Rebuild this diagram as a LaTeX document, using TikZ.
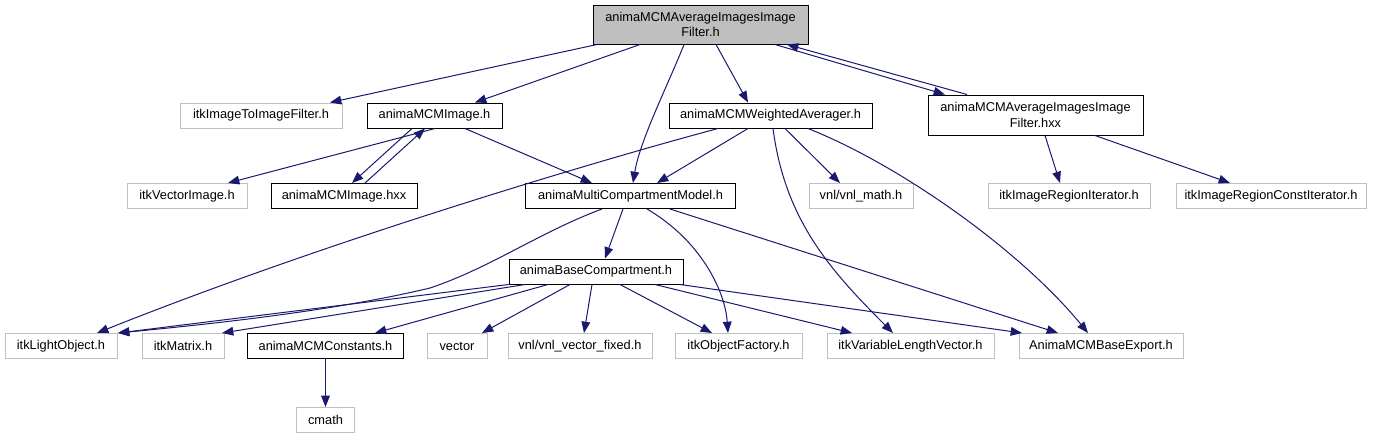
\documentclass[tikz,border=0pt]{standalone}
\usepackage{fontspec}
\setmainfont{Liberation Sans}
\usetikzlibrary{arrows.meta,calc}
\definecolor{edgec}{RGB}{25,25,112}
\definecolor{lgray}{RGB}{191,191,191}
\begin{document}
\begin{tikzpicture}[x=0.75pt,y=-0.75pt,
  font=\fontsize{9.6}{11.5}\selectfont,
  box/.style={draw=black, line width=0.75pt, inner sep=0pt, minimum height=18.75pt, align=center},
  ext/.style={box, draw=lgray},
  w/.style={minimum width=#1*0.75pt},
  hh/.style={minimum height=#1*0.75pt},
  e/.style={draw=edgec, line width=0.75pt, -{Triangle[length=8.5pt,width=6.5pt]}}]
\fill[white] (0,0) rectangle (1377,440);
\useasboundingbox (0,0) rectangle (1377,440);
% row 1
\node[box, w=215, hh=39, fill=lgray] (root) at (700.5,24.5) {animaMCMAverageImagesImage\\Filter.h};
% row 2
\node[ext, w=162] (i2i) at (261,115.5) {itkImageToImageFilter.h};
\node[box, w=135] (mcmimg) at (434.5,115.5) {animaMCMImage.h};
\node[box, w=203] (wavg) at (770.5,115.5) {animaMCMWeightedAverager.h};
\node[box, w=215, hh=40] (hxxf) at (1035.5,115) {animaMCMAverageImagesImage\\Filter.hxx};
% row 3
\node[ext, w=120] (vecimg) at (187,196) {itkVectorImage.h};
\node[box, w=146] (mcmhxx) at (344,196) {animaMCMImage.hxx};
\node[box, w=210] (mcm) at (630.5,196) {animaMultiCompartmentModel.h};
\node[ext, w=104] (vnlmath) at (861,196) {vnl/vnl\_math.h};
\node[ext, w=162] (regiter) at (1069,196) {itkImageRegionIterator.h};
\node[ext, w=190] (regconst) at (1271,196) {itkImageRegionConstIterator.h};
% row 4
\node[box, w=174] (base) at (596,271.5) {animaBaseCompartment.h};
% row 5
\node[ext, w=112] (light) at (61,346) {itkLightObject.h};
\node[ext, w=82] (matrix) at (183,346) {itkMatrix.h};
\node[box, w=156] (const) at (325.5,346) {animaMCMConstants.h};
\node[ext, w=60] (vector) at (457,346) {vector};
\node[ext, w=144] (vnlfixed) at (580,346) {vnl/vnl\_vector\_fixed.h};
\node[ext, w=127] (objfact) at (738.5,346) {itkObjectFactory.h};
\node[ext, w=167] (varlen) at (910.5,346) {itkVariableLengthVector.h};
\node[ext, w=164] (baseexp) at (1101,346) {AnimaMCMBaseExport.h};
% row 6
\node[ext, w=58] (cmath) at (325.5,420) {cmath};
% edges from root
\draw[e] (597,0 |- root.south) -- (330,0 |- i2i.north);
\draw[e] (640,0 |- root.south) -- (475,0 |- mcmimg.north);
\draw[e] (684,0 |- root.south) .. controls (668,85) and (640,140) .. (633,0 |- mcm.north);
\draw[e] (716,0 |- root.south) -- (748,0 |- wavg.north);
\draw[e] (775,0 |- root.south) -- (945,0 |- hxxf.north);
\draw[e] (967,0 |- hxxf.north) -- (787,0 |- root.south);
% from animaMCMImage.h
\draw[e] (435,0 |- mcmimg.south) -- (228,0 |- vecimg.north);
\draw[e] (412,0 |- mcmimg.south) -- (352,0 |- mcmhxx.north);
\draw[e] (365,0 |- mcmhxx.north) -- (425,0 |- mcmimg.south);
\draw[e] (465,0 |- mcmimg.south) -- (592,0 |- mcm.north);
% from weighted averager
\draw[e] (718,0 |- wavg.south) .. controls (600,160) and (330,240) .. (97,0 |- light.north);
\draw[e] (748,0 |- wavg.south) -- (657,0 |- mcm.north);
\draw[e] (785,0 |- wavg.south) -- (840,0 |- vnlmath.north);
\draw[e] (773,0 |- wavg.south) .. controls (785,220) and (830,270) .. (893,0 |- varlen.north);
\draw[e] (808,0 |- wavg.south) .. controls (900,165) and (1020,250) .. (1088,0 |- baseexp.north);
% from hxx filter
\draw[e] (1045,0 |- hxxf.south) -- (1060,0 |- regiter.north);
\draw[e] (1095,0 |- hxxf.south) -- (1230,0 |- regconst.north);
% from multi compartment model
\draw[e] (602,0 |- mcm.south) .. controls (540,232) and (490,268) .. (430,288) .. controls (330,312) and (200,325) .. (118,0 |- light.north);
\draw[e] (623,0 |- mcm.south) -- (605,0 |- base.north);
\draw[e] (647,0 |- mcm.south) .. controls (700,240) and (725,290) .. (728,0 |- objfact.north);
\draw[e] (670,0 |- mcm.south) -- (1058,0 |- baseexp.north);
% from base compartment
\draw[e] (base.south west) -- (118,0 |- light.north);
\draw[e] (525,0 |- base.south) -- (222,0 |- matrix.north);
\draw[e] (548,0 |- base.south) -- (375,0 |- const.north);
\draw[e] (570,0 |- base.south) -- (482,0 |- vector.north);
\draw[e] (592,0 |- base.south) -- (584,0 |- vnlfixed.north);
\draw[e] (620,0 |- base.south) -- (712,0 |- objfact.north);
\draw[e] (655,0 |- base.south) -- (852,0 |- varlen.north);
\draw[e] (680,0 |- base.south) -- (1022,0 |- baseexp.north);
% constants
\draw[e] (const.south) -- (cmath.north);
\end{tikzpicture}
\end{document}
